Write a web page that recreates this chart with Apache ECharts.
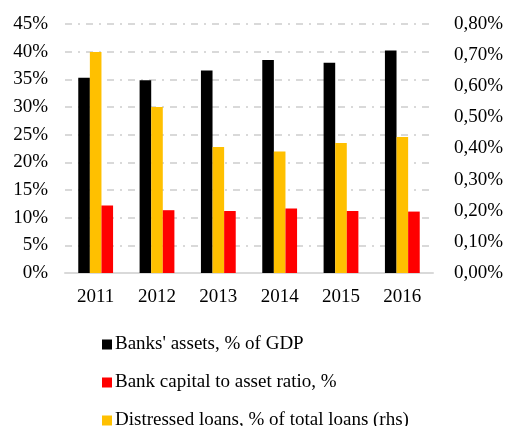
<!DOCTYPE html>
<html>
<head>
<meta charset="utf-8">
<script src="https://cdn.jsdelivr.net/npm/echarts@6/dist/echarts.min.js"></script>
<style>
  html, body { margin: 0; padding: 0; background: #fff; }
  #chart { width: 507px; height: 426px; }
</style>
</head>
<body>
<div id="chart"></div>
<script>
// Banking sector indicators, 2011–2016
const years = ['2011', '2012', '2013', '2014', '2015', '2016'];
const bankAssets = [35.3, 34.85, 36.6, 38.5, 38.0, 40.2];        // % of GDP (left axis)
const capitalRatio = [12.2, 11.35, 11.2, 11.65, 11.2, 11.1];      // % (left axis)
const distressedLoans = [0.71, 0.533, 0.405, 0.39, 0.418, 0.437]; // % of total loans (right axis)

const seriesNames = [
  "Banks' assets, % of GDP",
  'Bank capital to asset ratio, %',
  'Distressed loans, % of total loans (rhs)'
];

const leftTicks = { min: 0, max: 45, interval: 5 };
const rightTicks = { min: 0, max: 0.8, interval: 0.1 };

const FONT = 'Liberation Serif';
const FS = 19;
const gridLine = { color: '#d9d9d9', width: 2, type: [7, 6, 2, 6] };

// One legend block per entry, stacked vertically below the plot
const legendTops = [335, 373, 411];
const legends = seriesNames.map((name, i) => ({
  orient: 'horizontal',
  left: 102,
  top: legendTops[i],
  padding: 0,
  itemWidth: 10,
  itemHeight: 10,
  icon: 'rect',
  textStyle: { fontFamily: FONT, fontSize: FS, color: '#000', padding: [0, 0, 0, -2] },
  data: [name]
}));

const chart = echarts.init(document.getElementById('chart'), null, { renderer: 'canvas' });
chart.setOption({
  animation: false,
  backgroundColor: '#ffffff',
  textStyle: { fontFamily: FONT },
  grid: { left: 65, right: 74, top: 24, bottom: 153, containLabel: false },
  legend: legends,
  xAxis: {
    type: 'category',
    data: years,
    axisLine: { lineStyle: { color: '#d9d9d9', width: 2 } },
    axisTick: { show: false },
    axisLabel: { fontFamily: FONT, fontSize: FS, color: '#000', margin: 15 }
  },
  yAxis: [
    {
      type: 'value',
      min: leftTicks.min, max: leftTicks.max, interval: leftTicks.interval,
      axisLine: { show: false },
      axisTick: { show: false },
      splitLine: { lineStyle: gridLine },
      axisLabel: {
        fontFamily: FONT, fontSize: FS, color: '#000', margin: 17,
        formatter: v => v + '%'
      }
    },
    {
      type: 'value',
      min: rightTicks.min, max: rightTicks.max, interval: rightTicks.interval,
      position: 'right',
      axisLine: { show: false },
      axisTick: { show: false },
      splitLine: { show: false },
      axisLabel: {
        fontFamily: FONT, fontSize: FS, color: '#000', margin: 21,
        formatter: v => v.toFixed(2).replace('.', ',') + '%'
      }
    }
  ],
  series: [
    {
      name: seriesNames[0],
      type: 'bar',
      yAxisIndex: 0,
      data: bankAssets,
      barWidth: 11.6,
      barGap: '0%',
      itemStyle: { color: '#000000' }
    },
    {
      name: seriesNames[2],
      type: 'bar',
      yAxisIndex: 1,
      data: distressedLoans,
      barWidth: 11.6,
      barGap: '0%',
      itemStyle: { color: '#ffc000' }
    },
    {
      name: seriesNames[1],
      type: 'bar',
      yAxisIndex: 0,
      data: capitalRatio,
      barWidth: 11.6,
      barGap: '0%',
      itemStyle: { color: '#ff0000' }
    }
  ]
});
</script>
</body>
</html>
